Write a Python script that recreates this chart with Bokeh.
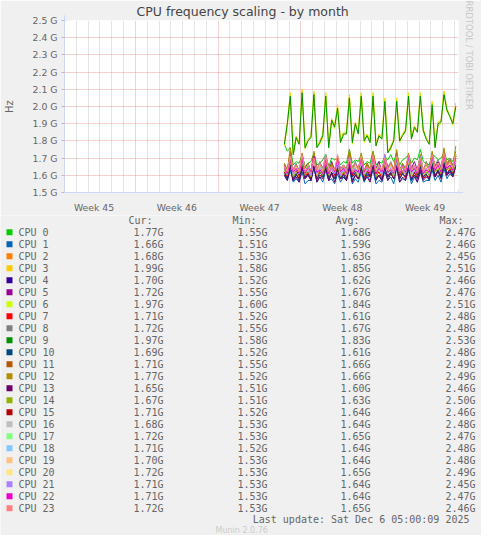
import numpy as np
from bokeh.core.properties import value
from bokeh.embed import file_html
from bokeh.layouts import column
from bokeh.models import (Arrow, ColumnDataSource, FixedTicker, NormalHead,
                          PrintfTickFormatter, Range1d, Title)
from bokeh.plotting import figure
from bokeh.resources import INLINE

# time axis: days from the left edge of the month window, one sample every 6 h
T_START = 18.6
T_STEP = 0.25
T_END = 33.33

week_centers = [2.5, 9.5, 16.5, 23.5, 30.5]
week_labels = ['Week 45', 'Week 46', 'Week 47', 'Week 48', 'Week 49']
week_bounds = [6, 13, 20, 27]
y_ticks = [1.5, 1.6, 1.7, 1.8, 1.9, 2.0, 2.1, 2.2, 2.3, 2.4, 2.5]

# frequencies in GHz
cpu0 = [1.78, 1.74, 1.76, 1.66, 1.68, 1.67, 1.72, 1.65, 1.67, 1.68, 1.73, 1.66, 1.67, 1.69, 1.72, 1.65, 1.70, 1.69,
        1.70, 1.66, 1.68, 1.67, 1.75, 1.67, 1.69, 1.68, 1.72, 1.66, 1.68, 1.67, 1.74, 1.66, 1.68, 1.67, 1.71, 1.69,
        1.72, 1.68, 1.73, 1.66, 1.69, 1.70, 1.72, 1.67, 1.70, 1.69, 1.75, 1.68, 1.67, 1.66, 1.72, 1.71, 1.69, 1.70,
        1.73, 1.69, 1.70, 1.68, 1.74]
cpu1 = [1.60, 1.57, 1.63, 1.56, 1.58, 1.56, 1.62, 1.55, 1.57, 1.57, 1.64, 1.56, 1.59, 1.56, 1.63, 1.57, 1.58, 1.55,
        1.61, 1.56, 1.59, 1.57, 1.64, 1.55, 1.58, 1.56, 1.62, 1.56, 1.60, 1.57, 1.63, 1.55, 1.57, 1.56, 1.62, 1.57,
        1.59, 1.55, 1.64, 1.56, 1.58, 1.57, 1.63, 1.55, 1.59, 1.56, 1.62, 1.56, 1.57, 1.57, 1.63, 1.57, 1.60, 1.56,
        1.64, 1.58, 1.61, 1.59, 1.66]
cpu2 = [1.64, 1.60, 1.70, 1.60, 1.63, 1.59, 1.68, 1.61, 1.64, 1.60, 1.71, 1.59, 1.62, 1.61, 1.69, 1.60, 1.65, 1.60,
        1.67, 1.61, 1.63, 1.59, 1.70, 1.60, 1.64, 1.61, 1.69, 1.59, 1.63, 1.60, 1.71, 1.61, 1.62, 1.59, 1.68, 1.62,
        1.65, 1.60, 1.70, 1.60, 1.63, 1.61, 1.69, 1.61, 1.64, 1.60, 1.68, 1.59, 1.62, 1.61, 1.70, 1.62, 1.65, 1.61,
        1.71, 1.63, 1.66, 1.62, 1.68]
cpu3 = [1.79, 1.91, 2.08, 1.73, 1.83, 1.79, 2.10, 1.77, 1.81, 1.83, 2.09, 1.77, 1.80, 1.84, 2.08, 1.77, 1.93, 1.89,
        2.01, 1.80, 1.85, 1.85, 2.07, 1.80, 1.91, 1.85, 2.08, 1.81, 1.84, 1.80, 2.08, 1.78, 1.84, 1.82, 2.05, 1.74,
        1.77, 1.81, 2.05, 1.81, 1.84, 1.87, 2.08, 1.82, 1.89, 1.86, 2.08, 1.87, 1.82, 1.79, 2.03, 1.77, 1.91, 1.92,
        2.09, 1.99, 1.95, 1.91, 2.02]
cpu4 = [1.62, 1.58, 1.66, 1.57, 1.60, 1.58, 1.65, 1.58, 1.61, 1.57, 1.67, 1.58, 1.60, 1.59, 1.66, 1.57, 1.62, 1.58,
        1.64, 1.58, 1.61, 1.57, 1.67, 1.57, 1.60, 1.58, 1.65, 1.58, 1.62, 1.59, 1.66, 1.57, 1.60, 1.57, 1.65, 1.59,
        1.62, 1.58, 1.67, 1.58, 1.61, 1.59, 1.66, 1.57, 1.62, 1.58, 1.65, 1.58, 1.60, 1.58, 1.66, 1.59, 1.63, 1.59,
        1.67, 1.60, 1.63, 1.60, 1.68]
cpu5 = [1.66, 1.63, 1.72, 1.62, 1.66, 1.63, 1.71, 1.64, 1.67, 1.62, 1.73, 1.63, 1.66, 1.64, 1.70, 1.62, 1.68, 1.63,
        1.69, 1.64, 1.66, 1.62, 1.72, 1.63, 1.67, 1.64, 1.71, 1.62, 1.66, 1.63, 1.73, 1.64, 1.68, 1.62, 1.70, 1.65,
        1.67, 1.63, 1.72, 1.63, 1.66, 1.64, 1.71, 1.64, 1.68, 1.63, 1.70, 1.62, 1.66, 1.64, 1.72, 1.65, 1.68, 1.64,
        1.73, 1.66, 1.69, 1.65, 1.72]
cpu6 = [1.77, 1.89, 2.07, 1.72, 1.81, 1.79, 2.08, 1.75, 1.81, 1.82, 2.08, 1.77, 1.78, 1.82, 2.07, 1.77, 1.91, 1.87,
        2.00, 1.80, 1.83, 1.85, 2.06, 1.78, 1.89, 1.85, 2.07, 1.79, 1.84, 1.80, 2.07, 1.78, 1.82, 1.82, 2.04, 1.74,
        1.75, 1.81, 2.04, 1.79, 1.84, 1.85, 2.07, 1.82, 1.87, 1.86, 2.07, 1.85, 1.82, 1.79, 2.02, 1.77, 1.89, 1.90,
        2.08, 1.97, 1.95, 1.89, 1.99]
cpu7 = [1.62, 1.59, 1.68, 1.58, 1.61, 1.58, 1.66, 1.59, 1.62, 1.58, 1.69, 1.58, 1.60, 1.59, 1.67, 1.59, 1.61, 1.58,
        1.65, 1.58, 1.62, 1.59, 1.68, 1.59, 1.61, 1.58, 1.66, 1.58, 1.60, 1.59, 1.69, 1.59, 1.62, 1.58, 1.66, 1.60,
        1.61, 1.59, 1.68, 1.58, 1.62, 1.58, 1.67, 1.59, 1.61, 1.59, 1.66, 1.58, 1.60, 1.59, 1.68, 1.60, 1.63, 1.60,
        1.69, 1.61, 1.64, 1.61, 1.70]
cpu8 = [1.67, 1.63, 1.71, 1.63, 1.67, 1.62, 1.72, 1.64, 1.66, 1.63, 1.70, 1.63, 1.68, 1.64, 1.71, 1.65, 1.67, 1.63,
        1.69, 1.63, 1.66, 1.64, 1.72, 1.64, 1.68, 1.63, 1.70, 1.63, 1.67, 1.64, 1.71, 1.65, 1.66, 1.62, 1.72, 1.64,
        1.68, 1.63, 1.70, 1.63, 1.67, 1.64, 1.71, 1.64, 1.66, 1.63, 1.72, 1.63, 1.68, 1.64, 1.71, 1.66, 1.69, 1.65,
        1.73, 1.67, 1.70, 1.66, 1.72]
cpu9 = [1.78, 1.90, 2.06, 1.72, 1.82, 1.78, 2.08, 1.76, 1.80, 1.82, 2.07, 1.76, 1.79, 1.83, 2.06, 1.76, 1.92, 1.88,
        1.99, 1.79, 1.84, 1.84, 2.05, 1.79, 1.90, 1.84, 2.06, 1.80, 1.83, 1.79, 2.06, 1.77, 1.83, 1.81, 2.03, 1.73,
        1.76, 1.80, 2.03, 1.80, 1.83, 1.86, 2.06, 1.81, 1.88, 1.85, 2.06, 1.86, 1.81, 1.78, 2.01, 1.76, 1.90, 1.91,
        2.07, 1.98, 1.94, 1.90, 2.00]
cpu10 = [1.61, 1.58, 1.66, 1.58, 1.61, 1.57, 1.67, 1.59, 1.60, 1.58, 1.65, 1.57, 1.62, 1.59, 1.66, 1.59, 1.61, 1.58,
         1.64, 1.58, 1.60, 1.57, 1.67, 1.59, 1.62, 1.58, 1.65, 1.57, 1.61, 1.59, 1.66, 1.58, 1.60, 1.57, 1.67, 1.59,
         1.62, 1.58, 1.65, 1.58, 1.61, 1.59, 1.66, 1.57, 1.60, 1.58, 1.65, 1.59, 1.61, 1.57, 1.67, 1.60, 1.63, 1.59,
         1.68, 1.61, 1.63, 1.60, 1.69]
cpu11 = [1.66, 1.62, 1.74, 1.62, 1.65, 1.61, 1.72, 1.63, 1.66, 1.62, 1.73, 1.62, 1.65, 1.63, 1.71, 1.63, 1.67, 1.62,
         1.70, 1.62, 1.66, 1.61, 1.74, 1.63, 1.65, 1.63, 1.72, 1.62, 1.67, 1.62, 1.73, 1.64, 1.66, 1.61, 1.71, 1.63,
         1.67, 1.63, 1.74, 1.62, 1.65, 1.62, 1.72, 1.63, 1.66, 1.63, 1.71, 1.62, 1.65, 1.62, 1.73, 1.64, 1.67, 1.63,
         1.75, 1.65, 1.68, 1.64, 1.71]
cpu12 = [1.67, 1.63, 1.76, 1.62, 1.65, 1.62, 1.73, 1.63, 1.67, 1.61, 1.74, 1.62, 1.66, 1.63, 1.72, 1.64, 1.66, 1.62,
         1.71, 1.62, 1.65, 1.62, 1.75, 1.63, 1.66, 1.62, 1.73, 1.62, 1.67, 1.63, 1.74, 1.63, 1.65, 1.61, 1.72, 1.64,
         1.66, 1.62, 1.75, 1.62, 1.67, 1.63, 1.73, 1.63, 1.65, 1.62, 1.72, 1.62, 1.66, 1.63, 1.74, 1.64, 1.67, 1.63,
         1.76, 1.66, 1.69, 1.65, 1.77]
cpu13 = [1.60, 1.57, 1.65, 1.57, 1.59, 1.56, 1.64, 1.58, 1.60, 1.57, 1.66, 1.56, 1.59, 1.58, 1.64, 1.57, 1.61, 1.56,
         1.63, 1.58, 1.59, 1.57, 1.65, 1.56, 1.60, 1.58, 1.64, 1.57, 1.59, 1.56, 1.66, 1.58, 1.60, 1.57, 1.64, 1.57,
         1.61, 1.58, 1.65, 1.56, 1.59, 1.57, 1.64, 1.58, 1.60, 1.56, 1.63, 1.57, 1.59, 1.58, 1.65, 1.59, 1.62, 1.58,
         1.66, 1.60, 1.62, 1.59, 1.65]
cpu14 = [1.63, 1.60, 1.69, 1.59, 1.62, 1.60, 1.68, 1.60, 1.63, 1.59, 1.70, 1.61, 1.62, 1.60, 1.67, 1.60, 1.64, 1.61,
         1.66, 1.59, 1.62, 1.60, 1.69, 1.61, 1.63, 1.59, 1.68, 1.60, 1.62, 1.61, 1.70, 1.59, 1.64, 1.60, 1.67, 1.61,
         1.63, 1.59, 1.69, 1.60, 1.62, 1.61, 1.68, 1.59, 1.63, 1.60, 1.67, 1.61, 1.62, 1.60, 1.69, 1.62, 1.64, 1.61,
         1.70, 1.63, 1.65, 1.62, 1.67]
cpu15 = [1.64, 1.61, 1.70, 1.61, 1.63, 1.60, 1.69, 1.62, 1.64, 1.61, 1.71, 1.60, 1.63, 1.62, 1.68, 1.62, 1.65, 1.60,
         1.67, 1.61, 1.63, 1.61, 1.71, 1.60, 1.64, 1.62, 1.69, 1.62, 1.63, 1.60, 1.70, 1.61, 1.65, 1.61, 1.68, 1.62,
         1.64, 1.62, 1.70, 1.60, 1.63, 1.61, 1.69, 1.61, 1.64, 1.60, 1.68, 1.62, 1.63, 1.62, 1.70, 1.63, 1.65, 1.62,
         1.71, 1.64, 1.66, 1.63, 1.71]
cpu16 = [1.65, 1.61, 1.69, 1.62, 1.64, 1.61, 1.70, 1.61, 1.65, 1.62, 1.68, 1.62, 1.63, 1.61, 1.69, 1.63, 1.65, 1.62,
         1.67, 1.61, 1.64, 1.60, 1.70, 1.62, 1.63, 1.62, 1.69, 1.61, 1.65, 1.61, 1.68, 1.63, 1.64, 1.62, 1.70, 1.62,
         1.63, 1.61, 1.69, 1.61, 1.65, 1.62, 1.68, 1.62, 1.64, 1.61, 1.69, 1.61, 1.63, 1.62, 1.70, 1.63, 1.66, 1.62,
         1.71, 1.64, 1.66, 1.63, 1.68]
cpu17 = [1.65, 1.62, 1.71, 1.62, 1.64, 1.61, 1.70, 1.63, 1.66, 1.62, 1.69, 1.61, 1.65, 1.63, 1.71, 1.63, 1.64, 1.62,
         1.68, 1.62, 1.66, 1.61, 1.70, 1.63, 1.65, 1.63, 1.71, 1.62, 1.64, 1.62, 1.69, 1.63, 1.66, 1.61, 1.70, 1.61,
         1.65, 1.62, 1.71, 1.63, 1.64, 1.63, 1.69, 1.62, 1.66, 1.62, 1.70, 1.63, 1.65, 1.61, 1.71, 1.64, 1.66, 1.63,
         1.72, 1.65, 1.67, 1.64, 1.72]
cpu18 = [1.64, 1.61, 1.70, 1.60, 1.64, 1.61, 1.69, 1.62, 1.63, 1.60, 1.70, 1.61, 1.65, 1.62, 1.68, 1.62, 1.64, 1.61,
         1.69, 1.60, 1.63, 1.62, 1.70, 1.62, 1.65, 1.60, 1.68, 1.61, 1.64, 1.62, 1.70, 1.62, 1.63, 1.61, 1.69, 1.61,
         1.65, 1.60, 1.68, 1.62, 1.64, 1.62, 1.70, 1.60, 1.63, 1.61, 1.69, 1.62, 1.64, 1.62, 1.70, 1.63, 1.65, 1.62,
         1.71, 1.64, 1.66, 1.63, 1.71]
cpu19 = [1.65, 1.61, 1.69, 1.61, 1.64, 1.62, 1.70, 1.62, 1.65, 1.61, 1.69, 1.60, 1.64, 1.62, 1.70, 1.62, 1.63, 1.61,
         1.68, 1.61, 1.65, 1.62, 1.69, 1.62, 1.64, 1.60, 1.70, 1.61, 1.63, 1.62, 1.69, 1.62, 1.65, 1.61, 1.68, 1.61,
         1.64, 1.62, 1.70, 1.62, 1.63, 1.61, 1.69, 1.60, 1.65, 1.62, 1.68, 1.62, 1.64, 1.61, 1.70, 1.63, 1.65, 1.62,
         1.71, 1.64, 1.66, 1.63, 1.70]
cpu20 = [1.65, 1.62, 1.70, 1.62, 1.65, 1.62, 1.71, 1.63, 1.64, 1.61, 1.70, 1.62, 1.66, 1.63, 1.69, 1.63, 1.65, 1.62,
         1.71, 1.61, 1.64, 1.62, 1.70, 1.63, 1.66, 1.61, 1.69, 1.62, 1.65, 1.63, 1.71, 1.63, 1.64, 1.62, 1.70, 1.62,
         1.66, 1.61, 1.69, 1.63, 1.65, 1.63, 1.71, 1.61, 1.64, 1.62, 1.70, 1.63, 1.65, 1.62, 1.71, 1.64, 1.67, 1.63,
         1.72, 1.65, 1.67, 1.64, 1.72]
cpu21 = [1.64, 1.61, 1.71, 1.61, 1.63, 1.62, 1.69, 1.62, 1.65, 1.60, 1.70, 1.61, 1.64, 1.62, 1.72, 1.62, 1.63, 1.61,
         1.68, 1.60, 1.65, 1.62, 1.71, 1.62, 1.64, 1.61, 1.69, 1.61, 1.63, 1.62, 1.70, 1.62, 1.65, 1.60, 1.72, 1.61,
         1.64, 1.62, 1.69, 1.62, 1.63, 1.61, 1.70, 1.61, 1.65, 1.62, 1.71, 1.62, 1.64, 1.61, 1.70, 1.63, 1.66, 1.62,
         1.72, 1.64, 1.66, 1.63, 1.71]
cpu22 = [1.65, 1.61, 1.69, 1.62, 1.64, 1.61, 1.70, 1.61, 1.65, 1.62, 1.71, 1.62, 1.63, 1.61, 1.69, 1.61, 1.65, 1.62,
         1.70, 1.62, 1.64, 1.61, 1.68, 1.61, 1.63, 1.62, 1.70, 1.62, 1.65, 1.61, 1.71, 1.61, 1.64, 1.62, 1.69, 1.62,
         1.63, 1.61, 1.70, 1.61, 1.65, 1.62, 1.71, 1.62, 1.64, 1.61, 1.69, 1.61, 1.63, 1.62, 1.71, 1.63, 1.66, 1.62,
         1.72, 1.64, 1.66, 1.63, 1.71]
cpu23 = [1.65, 1.62, 1.71, 1.63, 1.66, 1.62, 1.72, 1.62, 1.65, 1.63, 1.70, 1.63, 1.67, 1.62, 1.71, 1.62, 1.65, 1.63,
         1.72, 1.63, 1.66, 1.62, 1.70, 1.62, 1.67, 1.63, 1.71, 1.63, 1.65, 1.62, 1.72, 1.62, 1.66, 1.63, 1.70, 1.63,
         1.67, 1.62, 1.71, 1.62, 1.65, 1.63, 1.72, 1.63, 1.66, 1.62, 1.70, 1.62, 1.67, 1.63, 1.72, 1.64, 1.67, 1.63,
         1.73, 1.65, 1.68, 1.64, 1.72]

series = [cpu0, cpu1, cpu2, cpu3, cpu4, cpu5, cpu6, cpu7, cpu8, cpu9, cpu10, cpu11,
          cpu12, cpu13, cpu14, cpu15, cpu16, cpu17, cpu18, cpu19, cpu20, cpu21, cpu22, cpu23]
names = [f'CPU {i}' for i in range(24)]
colors = ['#00CC00', '#0066B3', '#FF8000', '#FFCC00', '#330099', '#990099', '#CCFF00', '#FF0000',
          '#808080', '#008F00', '#00487D', '#B35A00', '#B38F00', '#6B006B', '#8FB300', '#B30000',
          '#BEBEBE', '#80FF80', '#80C9FF', '#FFC080', '#FFE680', '#AA80FF', '#EE00CC', '#FF8080']

cur = [1.77, 1.66, 1.68, 1.99, 1.70, 1.72, 1.97, 1.71, 1.72, 1.97, 1.69, 1.71,
       1.77, 1.65, 1.67, 1.71, 1.68, 1.72, 1.71, 1.70, 1.72, 1.71, 1.71, 1.72]
mins = [1.55, 1.51, 1.53, 1.58, 1.52, 1.55, 1.60, 1.52, 1.55, 1.58, 1.52, 1.55,
        1.52, 1.51, 1.51, 1.52, 1.53, 1.53, 1.52, 1.53, 1.53, 1.53, 1.53, 1.53]
avgs = [1.68, 1.59, 1.63, 1.85, 1.62, 1.67, 1.84, 1.61, 1.67, 1.83, 1.61, 1.66,
        1.66, 1.60, 1.63, 1.64, 1.64, 1.65, 1.64, 1.64, 1.65, 1.64, 1.64, 1.65]
maxs = [2.47, 2.46, 2.45, 2.51, 2.46, 2.47, 2.51, 2.48, 2.48, 2.53, 2.48, 2.49,
        2.49, 2.46, 2.50, 2.46, 2.48, 2.47, 2.48, 2.48, 2.49, 2.45, 2.47, 2.46]

BG = '#F0F0F0'
FONT = '#666666'
AXIS = '#CFD6F8'
MGRID = '#EBA0A0'
GRID = '#C8C8C8'

t = T_START + T_STEP * np.arange(len(cpu0))

p = figure(width=481, height=215, x_range=Range1d(0, T_END), y_range=Range1d(1.5, 2.5),
           output_backend='svg', toolbar_location=None, tools='', frame_align=False,
           min_border_left=59, min_border_right=22, min_border_top=20, min_border_bottom=20,
           background_fill_color='white', border_fill_color=BG, outline_line_color=None)

p.title.text = 'CPU frequency scaling - by month'
p.title.align = 'left'
p.title.offset = 72
p.title.standoff = 3
p.title.text_font = 'DejaVu Sans'
p.title.text_font_size = '12.5px'
p.title.text_font_style = 'normal'
p.title.text_color = '#444444'

p.add_layout(Title(text='RRDTOOL / TOBI OETIKER', align='left', offset=-20, text_font='DejaVu Sans',
                   text_font_size='8.5px', text_font_style='normal', text_color='#C8C8C8',
                   standoff=11), 'right')

p.yaxis.ticker = FixedTicker(ticks=y_ticks)
p.yaxis.formatter = PrintfTickFormatter(format='%.1f G')
p.yaxis.axis_label = 'Hz'
p.yaxis.axis_label_standoff = 15
p.yaxis.axis_label_text_font = 'DejaVu Sans'
p.yaxis.axis_label_text_font_size = '10px'
p.yaxis.axis_label_text_font_style = 'normal'
p.yaxis.axis_label_text_color = FONT
p.yaxis.major_tick_out = 3
p.yaxis.major_tick_in = 0
p.yaxis.major_tick_line_color = '#BBBBBB'
p.yaxis.minor_tick_line_color = None
p.yaxis.major_label_standoff = 4

p.xaxis.ticker = FixedTicker(ticks=week_centers)
p.xaxis.major_label_overrides = dict(zip(week_centers, week_labels))
p.xaxis.major_tick_line_color = None
p.xaxis.minor_tick_line_color = None
p.xaxis.major_label_standoff = 3

for ax in (p.xaxis, p.yaxis):
    ax.axis_line_color = AXIS
    ax.major_label_text_font = 'DejaVu Sans'
    ax.major_label_text_font_size = '9.3px'
    ax.major_label_text_color = FONT

p.xgrid.ticker = FixedTicker(ticks=week_bounds,
                             minor_ticks=[d for d in range(1, 34) if d not in week_bounds])
p.xgrid.grid_line_color = MGRID
p.xgrid.grid_line_dash = '1 1'
p.xgrid.minor_grid_line_color = GRID
p.xgrid.minor_grid_line_dash = '1 1'
p.ygrid.grid_line_color = MGRID
p.ygrid.grid_line_dash = '1 1'

for vals, col in zip(series, colors):
    p.line(t, vals, line_color=col, line_width=1)

p.add_layout(Arrow(end=NormalHead(size=5, fill_color=AXIS, line_color=AXIS),
                   x_start=T_END, y_start=1.5, x_end=T_END + 0.4, y_end=1.5, line_color=AXIS))
p.add_layout(Arrow(end=NormalHead(size=5, fill_color=AXIS, line_color=AXIS),
                   x_start=0, y_start=2.5, x_end=0, y_end=2.53, line_color=AXIS))

# legend block under the graph, laid out in pixels
LH = 320
lg = figure(width=481, height=LH, x_range=Range1d(0, 481), y_range=Range1d(LH, 0),
            output_backend='svg', toolbar_location=None, tools='', frame_align=False,
            x_axis_type=None, y_axis_type=None, min_border=0,
            background_fill_color=BG, border_fill_color=BG, outline_line_color=None)
lg.grid.visible = False

src = ColumnDataSource(dict(
    y=[16.7 + 12 * i for i in range(24)],
    name=names,
    color=colors,
    cur=[f'{v:.2f}G' for v in cur],
    mn=[f'{v:.2f}G' for v in mins],
    avg=[f'{v:.2f}G' for v in avgs],
    mx=[f'{v:.2f}G' for v in maxs],
))

mono = dict(text_font=value('DejaVu Sans Mono'), text_font_size='10px',
            text_color=FONT, text_baseline='middle')

lg.rect(x=9, y='y', width=6, height=6, fill_color='color', line_color=None, source=src)
lg.text(x=18, y='y', text='name', source=src, text_align='left', **mono)
for col, xr in (('cur', 163), ('mn', 267), ('avg', 370), ('mx', 475)):
    lg.text(x=xr, y='y', text=col, source=src, text_align='right', **mono)

lg.text(x=[128, 232, 335, 439], y=[4.5] * 4, text=['Cur:', 'Min:', 'Avg:', 'Max:'],
        text_align='left', **mono)
lg.text(x=[475], y=[303.7], text=['Last update: Sat Dec  6 05:00:09 2025'],
        text_align='right', **mono)
lg.text(x=[215], y=[315], text=['Munin 2.0.76'], text_align='left',
        text_font=value('DejaVu Sans'), text_font_size='8px', text_color='#CCCCCC',
        text_baseline='middle')

layout = column(p, lg)
open('out.html', 'w').write(file_html(layout, INLINE))
